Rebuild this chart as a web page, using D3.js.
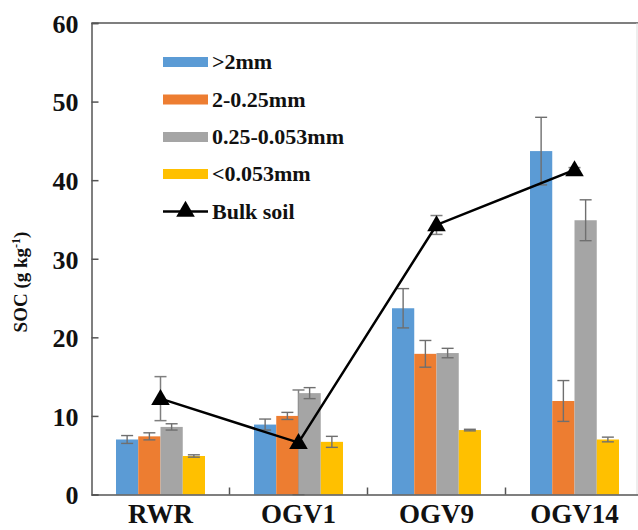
<!DOCTYPE html>
<html>
<head>
<meta charset="utf-8">
<script src="https://cdn.jsdelivr.net/npm/d3@7"></script>
<style>
  body { margin: 0; background: #fff; }
  svg text { font-family: "Liberation Serif", "Times New Roman", serif; font-weight: bold; fill: #111; }
</style>
</head>
<body>
<div id="chart"></div>
<script>
// values
const sites = ["RWR", "OGV1", "OGV9", "OGV14"];
const fractions = [">2mm", "2-0.25mm", "0.25-0.053mm", "<0.053mm"];
const fractionColors = ["#5B9BD5", "#ED7D31", "#A5A5A5", "#FFC000"];
const socMean = [
  [7.0, 8.9, 23.7, 43.7],
  [7.4, 10.0, 17.9, 11.9],
  [8.6, 12.9, 18.0, 34.9],
  [4.9, 6.7, 8.2, 7.0]
];
const socErr = [
  [0.5, 0.7, 2.5, 4.3],
  [0.45, 0.45, 1.7, 2.6],
  [0.4, 0.7, 0.6, 2.6],
  [0.15, 0.7, 0.1, 0.3]
];
const bulkMean = [12.2, 6.6, 34.3, 41.3];
const bulkErr = [2.8, 6.7, 1.2, 0.3];
const yTicks = [0, 10, 20, 30, 40, 50, 60];

const width = 638, height = 530;
const plotLeft = 91.5, plotTop = 23, plotBottom = 494.5;
const groupWidth = 89;

const svg = d3.select("#chart").append("svg")
  .attr("width", width)
  .attr("height", height)
  .style("display", "block")
  .attr("font-family", "Liberation Serif");

const x = d3.scaleBand().domain(sites).range([plotLeft, plotLeft + 138 * sites.length]);
const bw = x.bandwidth();
const x1 = d3.scaleBand().domain(fractions)
  .range([(bw - groupWidth) / 2, (bw + groupWidth) / 2]);
const y = d3.scaleLinear().domain([0, 60]).range([plotBottom, plotTop]);
const color = d3.scaleOrdinal().domain(fractions).range(fractionColors);

// frame (top + faint right edge)
svg.append("line")
  .attr("x1", plotLeft).attr("x2", width).attr("y1", y(60)).attr("y2", y(60))
  .attr("stroke", "#555").attr("stroke-width", 1.5);
svg.append("line")
  .attr("x1", 637).attr("x2", 637).attr("y1", y(60)).attr("y2", plotBottom)
  .attr("stroke", "#ddd").attr("stroke-width", 1);

// bulk soil error bars sit behind the bars
const bulkErrG = svg.append("g").attr("stroke", "#7f7f7f").attr("stroke-width", 1.5);
sites.forEach((s, i) => {
  const cx = x(s) + bw / 2;
  const lo = y(Math.max(0, bulkMean[i] - bulkErr[i])), hi = y(bulkMean[i] + bulkErr[i]);
  bulkErrG.append("line").attr("x1", cx).attr("x2", cx).attr("y1", lo).attr("y2", hi);
  bulkErrG.append("line").attr("x1", cx - 6).attr("x2", cx + 6).attr("y1", hi).attr("y2", hi);
  bulkErrG.append("line").attr("x1", cx - 6).attr("x2", cx + 6).attr("y1", lo).attr("y2", lo);
});

// bars
const rows = [];
fractions.forEach((f, j) => {
  sites.forEach((s, i) => rows.push({ site: s, frac: f, v: socMean[j][i], e: socErr[j][i] }));
});

svg.append("g").selectAll("rect")
  .data(rows)
  .join("rect")
  .attr("x", d => x(d.site) + x1(d.frac))
  .attr("y", d => y(d.v))
  .attr("width", x1.bandwidth())
  .attr("height", d => y(0) - y(d.v))
  .attr("fill", d => color(d.frac));

// bar error bars
const errG = svg.append("g").attr("stroke", "#6f6f6f").attr("stroke-width", 1.4);
rows.forEach(d => {
  const cx = x(d.site) + x1(d.frac) + x1.bandwidth() / 2;
  const lo = y(d.v - d.e), hi = y(d.v + d.e);
  errG.append("line").attr("x1", cx).attr("x2", cx).attr("y1", lo).attr("y2", hi);
  errG.append("line").attr("x1", cx - 6).attr("x2", cx + 6).attr("y1", hi).attr("y2", hi);
  errG.append("line").attr("x1", cx - 6).attr("x2", cx + 6).attr("y1", lo).attr("y2", lo);
});

// y axis
const yAxis = svg.append("g")
  .attr("transform", `translate(${plotLeft},0)`)
  .call(d3.axisLeft(y).tickValues(yTicks).tickSize(-7).tickPadding(13));
yAxis.select(".domain").attr("stroke", "#555").attr("stroke-width", 1.5);
yAxis.selectAll(".tick line").attr("stroke", "#555").attr("stroke-width", 1.5);
yAxis.selectAll(".tick text")
  .attr("font-size", 26).attr("dy", "0.36em")
  .attr("font-family", "Liberation Serif").attr("font-weight", "bold").attr("fill", "#111");

// x axis
const xAxis = svg.append("g")
  .attr("transform", `translate(0,${plotBottom})`)
  .call(d3.axisBottom(x).tickSize(0).tickPadding(10));
xAxis.select(".domain").attr("stroke", "#555").attr("stroke-width", 1.5);
xAxis.selectAll(".tick text")
  .attr("font-size", 27).attr("dy", "0.7em")
  .attr("font-family", "Liberation Serif").attr("font-weight", "bold").attr("fill", "#111");
// category separators
svg.append("g").selectAll("line")
  .data(sites.slice(1))
  .join("line")
  .attr("x1", d => x(d)).attr("x2", d => x(d))
  .attr("y1", plotBottom).attr("y2", plotBottom - 7)
  .attr("stroke", "#555").attr("stroke-width", 1.5);

// bulk soil line
const tri = d3.symbol().type(d3.symbolTriangle).size(150);
const lineGen = d3.line().x((d, i) => x(sites[i]) + bw / 2).y(d => y(d));
svg.append("path")
  .datum(bulkMean)
  .attr("d", lineGen)
  .attr("fill", "none").attr("stroke", "#000").attr("stroke-width", 2.5);
svg.append("g").selectAll("path")
  .data(bulkMean)
  .join("path")
  .attr("d", tri)
  .attr("transform", (d, i) => `translate(${x(sites[i]) + bw / 2},${y(d) + 1})`)
  .attr("fill", "#000");

// y title
svg.append("text")
  .attr("transform", "translate(27,282) rotate(-90)")
  .attr("text-anchor", "middle")
  .attr("font-size", 19)
  .html('SOC (g kg<tspan dy="-7" font-size="12">-1</tspan><tspan dy="7">)</tspan>');

// legend
const legend = svg.append("g");
const rowY = [62, 99.5, 137, 174, 211.5];
fractions.forEach((f, j) => {
  legend.append("rect")
    .attr("x", 163).attr("y", rowY[j] - 5).attr("width", 45).attr("height", 10)
    .attr("fill", color(f));
  legend.append("text")
    .attr("x", 212).attr("y", rowY[j]).attr("dy", "0.33em")
    .attr("font-size", 22).text(f);
});
legend.append("line")
  .attr("x1", 163).attr("x2", 208).attr("y1", rowY[4]).attr("y2", rowY[4])
  .attr("stroke", "#000").attr("stroke-width", 2.5);
legend.append("path")
  .attr("d", tri)
  .attr("transform", `translate(185.5,${rowY[4]})`)
  .attr("fill", "#000");
legend.append("text")
  .attr("x", 212).attr("y", rowY[4]).attr("dy", "0.33em")
  .attr("font-size", 22).text("Bulk soil");
</script>
</body>
</html>
